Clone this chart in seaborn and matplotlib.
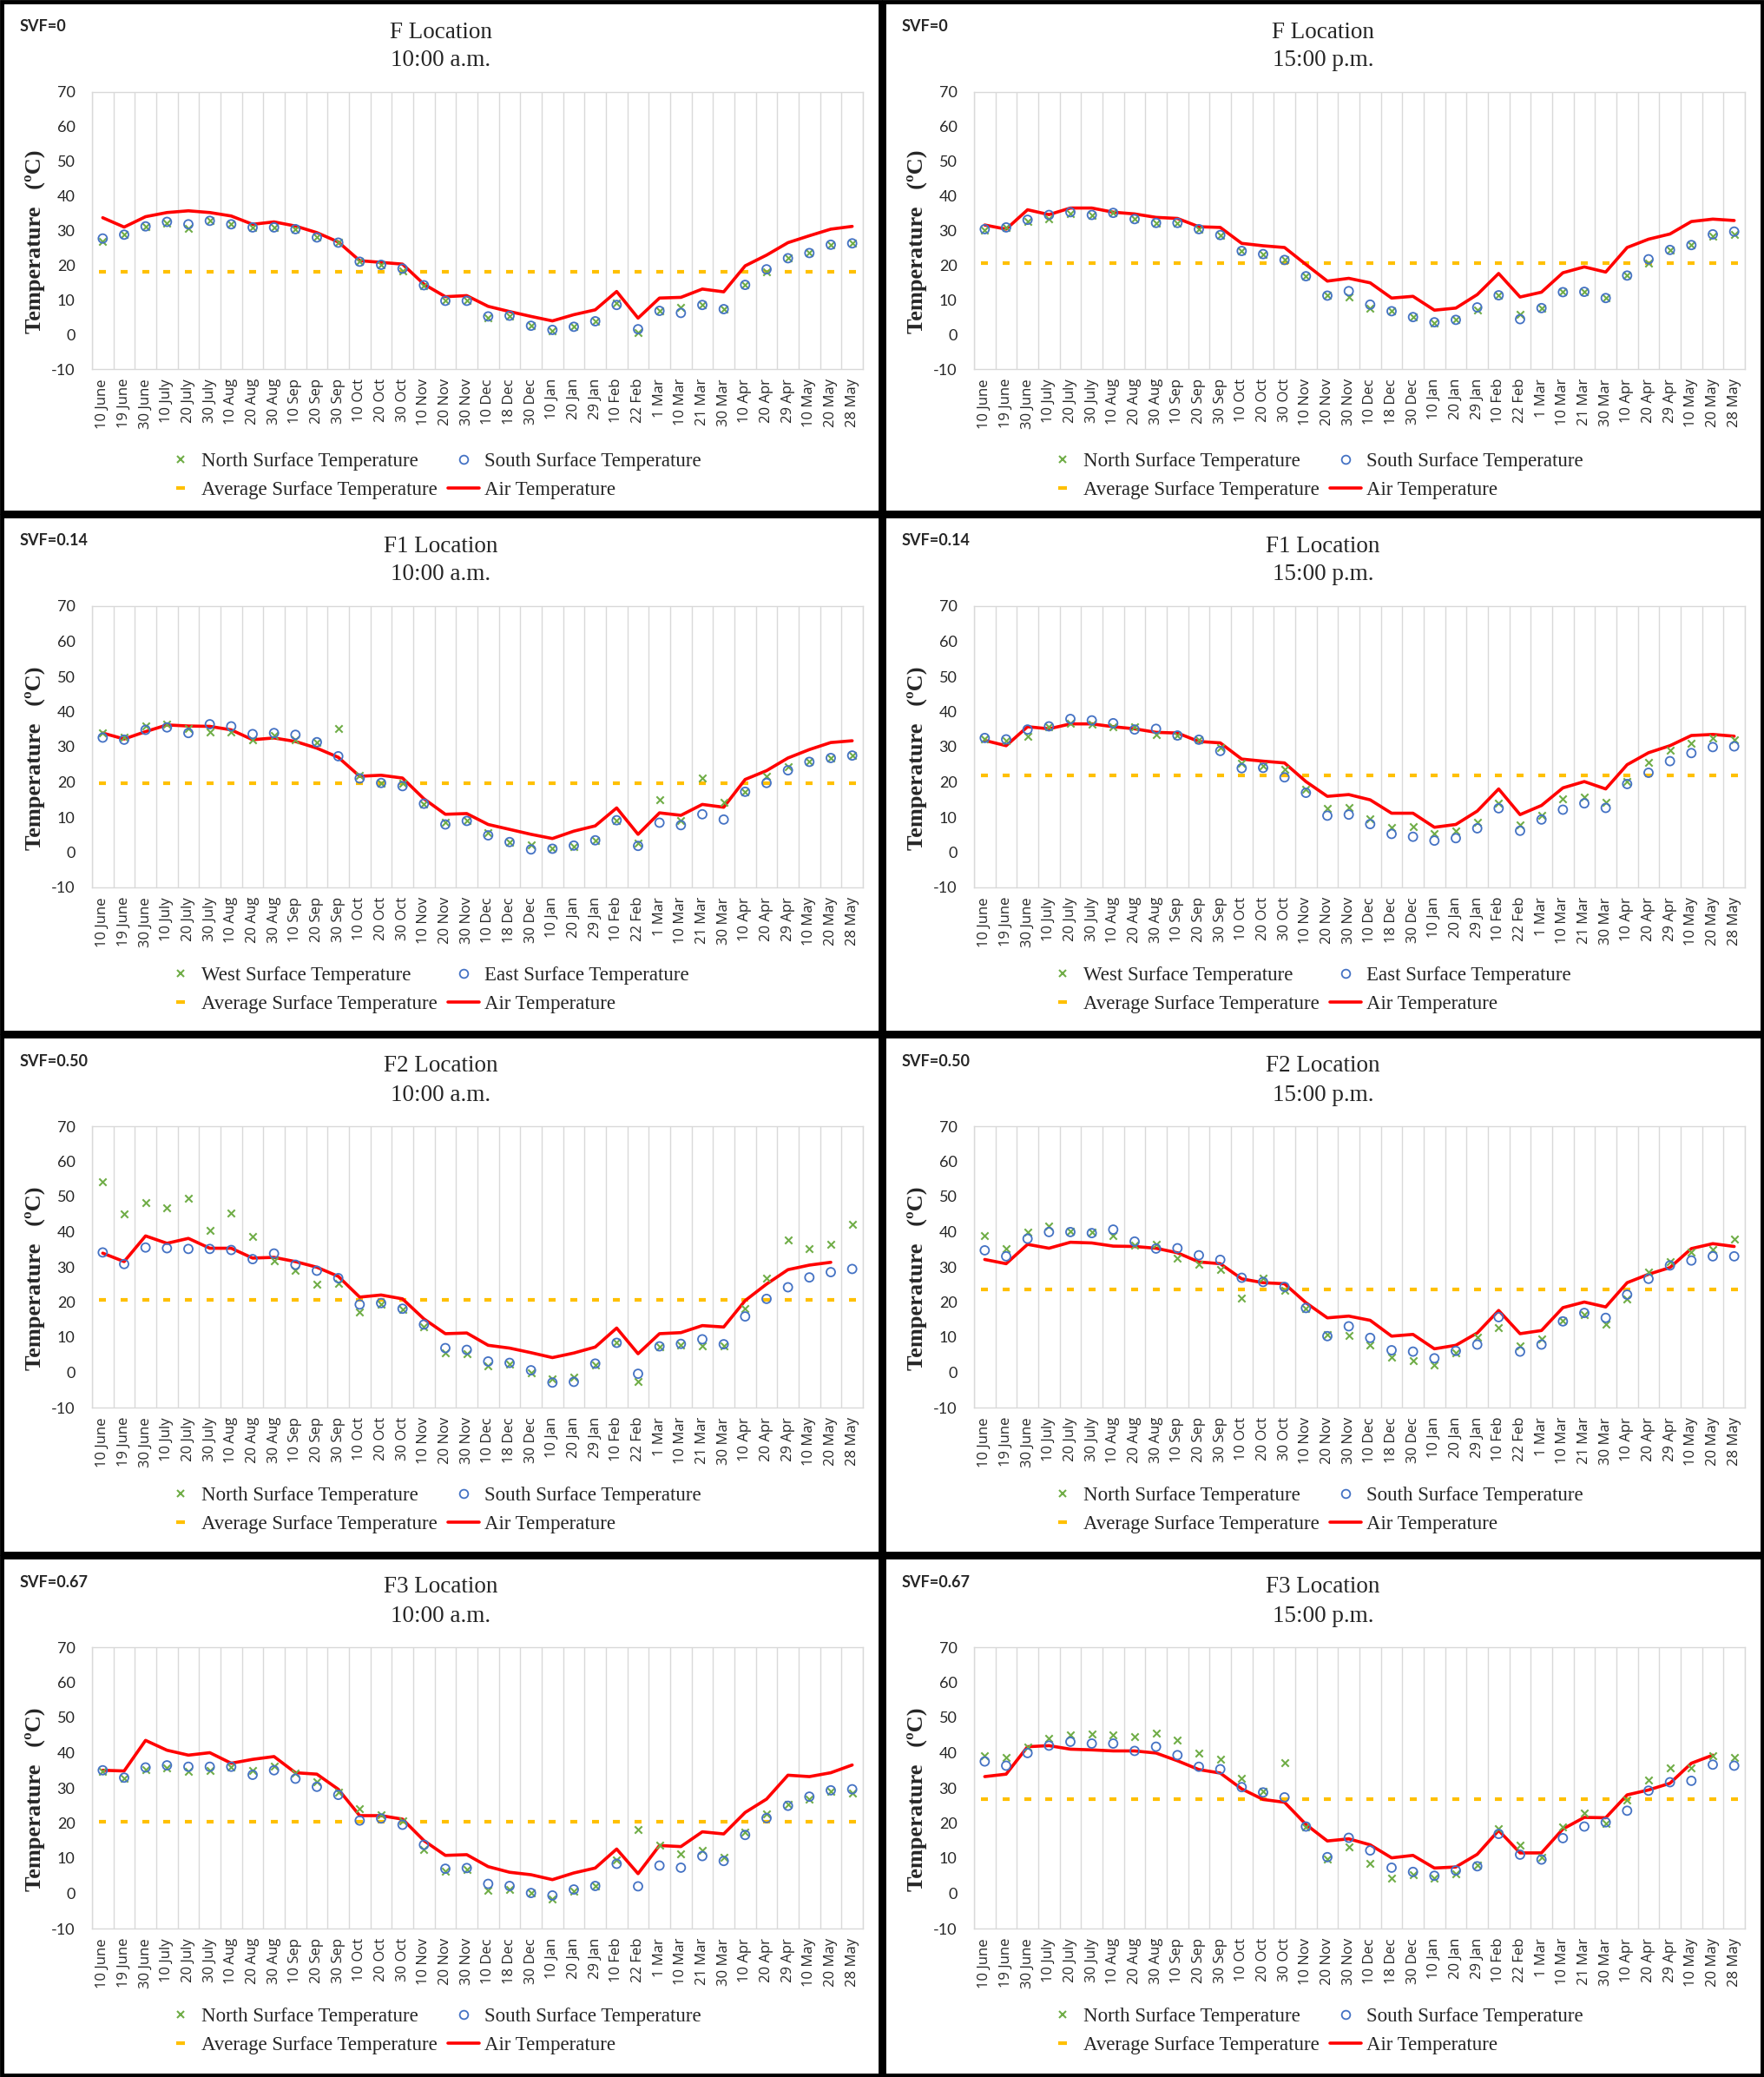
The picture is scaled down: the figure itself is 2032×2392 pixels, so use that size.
import matplotlib.pyplot as plt
from matplotlib.lines import Line2D
from matplotlib.patches import Rectangle
import seaborn as sns
import numpy as np
import pandas as pd

# --------------------
# data
# --------------------
dates = ['10 June', '19 June', '30 June', '10 July', '20 July', '30 July', '10 Aug', '20 Aug',
         '30 Aug', '10 Sep', '20 Sep', '30 Sep', '10 Oct', '20 Oct', '30 Oct', '10 Nov',
         '20 Nov', '30 Nov', '10 Dec', '18 Dec', '30 Dec', '10 Jan', '20 Jan', '29 Jan',
         '10 Feb', '22 Feb', '1 Mar', '10 Mar', '21 Mar', '30 Mar', '10 Apr', '20 Apr',
         '29 Apr', '10 May', '20 May', '28 May']
nan = np.nan

# F location, SVF=0
f_am_air = [33.7, 31, 34, 35.2, 35.7, 35.2, 34.2, 31.8, 32.5, 31.3, 29.4, 26.7, 21.3, 20.8, 20.3, 14.5, 10.9, 11.2,
            8.1, 6.6, 5.2, 3.9, 5.7, 7.1, 12.4, 4.7, 10.5, 10.7, 13.1, 12.3, 19.8, 22.9, 26.5, 28.5, 30.4, 31.2]
f_am_north = [26.8, 28.8, 31.2, 32.1, 30.7, 32.8, 31.8, 30.9, 30.9, 30.4, 28, 26.5, 21, 20.1, 18.4, 14.2, 9.7, 9.7,
              4.9, 5.4, 2.5, 1.1, 2.2, 3.8, 9, 0.6, 6.8, 7.8, 8.5, 7.3, 14.3, 18.1, 22, 23.5, 25.9, 26.3]
f_am_south = [27.7, 28.8, 31.2, 32.5, 31.8, 32.8, 31.8, 30.9, 30.9, 30.4, 28, 26.5, 21, 20.1, 19, 14.2, 9.7, 9.7,
              5.2, 5.4, 2.5, 1.3, 2.2, 3.8, 8.5, 1.5, 6.8, 6.2, 8.5, 7.3, 14.3, 18.8, 22, 23.5, 25.9, 26.3]
f_am_avg = 18.0

f_pm_air = [31.6, 30.4, 36, 34.6, 36.5, 36.5, 35.3, 34.8, 33.8, 33.5, 31.1, 30.9, 26.3, 25.6, 25.1, 20.2, 15.4, 16.2,
            14.9, 10.5, 11, 7, 7.6, 11.5, 17.6, 10.8, 12.2, 17.8, 19.5, 18, 25.1, 27.5, 29, 32.6, 33.3, 32.9]
f_pm_north = [30.2, 30.9, 32.7, 33.5, 34.8, 34.5, 35.1, 33.3, 32.2, 32.2, 30.4, 28.7, 24.1, 23.2, 21.5, 16.8, 11.2, 10.7,
              7.6, 6.7, 5, 3.3, 4.2, 7.1, 11.3, 5.7, 7.6, 12.2, 12.3, 10.5, 17, 20.7, 24.4, 25.8, 28.3, 28.8]
f_pm_south = [30.4, 30.9, 33.1, 34.5, 35.3, 34.5, 35.1, 33.3, 32.2, 32.2, 30.4, 28.7, 24.1, 23.2, 21.5, 16.8, 11.2, 12.5,
              8.6, 6.7, 5, 3.5, 4.2, 7.8, 11.3, 4.4, 7.6, 12.2, 12.3, 10.5, 17, 21.7, 24.4, 25.8, 28.9, 29.7]
f_pm_avg = 20.5

# F1 location, SVF=0.14
f1_am_air = [33.9, 32.2, 34.3, 36.2, 35.9, 35.8, 34.8, 32, 32.5, 31.5, 29.6, 27, 21.6, 21.9, 21.1, 15.2, 10.8, 11,
             7.9, 6.5, 5.1, 3.9, 6, 7.5, 12.6, 5.1, 11.2, 10.5, 13.6, 12.8, 20.7, 23.2, 26.8, 29.2, 31.2, 31.7]
f1_am_west = [33.9, 32.8, 35.9, 36.5, 35.1, 34.3, 34.2, 31.9, 33.2, 32, 31.3, 35.1, 21.9, 19.7, 19.7, 13.8, 8.4, 8.9,
              5.6, 2.9, 2, 1, 1.7, 3.4, 9.1, 2.7, 14.9, 8.9, 21.1, 14.3, 17.2, 21.6, 24.4, 25.7, 26.8, 27.5]
f1_am_east = [32.6, 32, 34.8, 35.5, 33.9, 36.4, 35.8, 33.6, 33.9, 33.4, 31.3, 27.3, 21, 19.7, 18.8, 13.8, 7.9, 8.9,
              4.8, 2.9, 0.8, 1, 1.9, 3.4, 9.1, 1.8, 8.4, 7.7, 10.8, 9.3, 17.2, 19.7, 23.3, 25.7, 26.8, 27.5]
f1_am_avg = 19.7

f1_pm_air = [31.8, 30.3, 35.7, 35.1, 36.5, 36.5, 35.7, 35.1, 34.1, 33.9, 31.5, 31.1, 26.5, 25.9, 25.4, 20.1, 15.9, 16.4,
             14.9, 11.1, 11.1, 7.1, 7.9, 11.7, 18, 10.7, 13.3, 18.3, 20.1, 18, 24.9, 28.3, 30.3, 33.2, 33.5, 33]
f1_pm_west = [32.2, 31.8, 33, 35.6, 36.7, 36.5, 35.6, 35.7, 33.5, 33.2, 32, 29.7, 25.4, 24.6, 23.5, 18, 12.5, 12.8,
              9.5, 7.1, 7.3, 5.4, 6, 8.5, 14, 7.9, 10.4, 15.1, 15.6, 14.2, 20.1, 25.6, 28.9, 31, 32.4, 32]
f1_pm_east = [32.5, 32.1, 34.9, 35.8, 37.9, 37.5, 36.7, 34.9, 35.1, 33.2, 32, 28.8, 23.9, 24, 21.3, 16.9, 10.4, 10.7,
              8, 5.2, 4.4, 3.3, 4, 6.8, 12.5, 6.1, 9.3, 12.1, 13.9, 12.6, 19.4, 22.6, 25.9, 28.2, 29.9, 30.1]
f1_pm_avg = 21.8

# F2 location, SVF=0.50
f2_am_air = [33.9, 31.5, 38.8, 36.7, 38.1, 35.3, 35.3, 32.5, 32.7, 31.5, 29.9, 27.3, 21.4, 22, 20.9, 15.2, 11, 11.2,
             7.7, 6.9, 5.6, 4.2, 5.5, 7.2, 12.6, 5.3, 11, 11.3, 13.3, 12.9, 20.4, 25.1, 29.2, 30.5, 31.3, nan]
f2_am_north = [54.1, 45, 48.3, 46.7, 49.5, 40.3, 45.3, 38.6, 31.8, 28.9, 25, 25.4, 17.1, 19.5, 17.8, 12.9, 5.6, 5.3,
               1.8, 2.3, -0.1, -1.8, -1.3, 2, 8.4, -2.5, 7.2, 7.7, 7.5, 7.5, 18.1, 26.8, 37.6, 35.1, 36.3, 42.1]
f2_am_south = [34.1, 30.8, 35.5, 35.3, 35.1, 35.1, 34.8, 32.2, 33.8, 30.6, 28.9, 26.8, 19.3, 19.7, 18.1, 13.6, 6.9, 6.4,
               3.1, 2.7, 0.6, -2.9, -2.7, 2.5, 8.4, -0.4, 7.4, 8.1, 9.4, 8, 15.9, 20.9, 24.2, 27, 28.5, 29.4]
f2_am_avg = 20.6

f2_pm_air = [32.1, 30.9, 36.4, 35.3, 37, 36.8, 35.9, 35.8, 35.3, 34, 31.4, 30.9, 26.6, 25.5, 25.2, 19.8, 15.5, 16,
             14.8, 10.3, 10.8, 6.7, 7.7, 11.2, 17.6, 11, 11.9, 18.4, 20, 18.6, 25.5, 27.9, 29.8, 35.2, 36.6, 35.8]
f2_pm_north = [38.8, 35.3, 39.9, 41.6, 40.2, 39.9, 38.9, 36.1, 36.4, 32.5, 30.7, 29.3, 21.2, 26.8, 23.3, 18.2, 10.7, 10.5,
               7.7, 4.2, 3.4, 2.1, 5.6, 9.9, 12.6, 7.5, 9.4, 14.8, 16.4, 13.6, 20.8, 28.5, 31.6, 34.2, 35, 38]
f2_pm_south = [34.7, 33, 38, 39.9, 39.9, 39.6, 40.6, 37.2, 35.2, 35.3, 33.3, 32, 26.9, 25.7, 24.3, 18.3, 10.3, 13.1,
               9.8, 6.3, 5.9, 4, 6.1, 7.9, 15.7, 5.9, 7.9, 14.5, 16.9, 15.5, 22.1, 26.6, 30.4, 31.8, 33, 33]
f2_pm_avg = 23.6

# F3 location, SVF=0.67
f3_am_air = [35, 34.8, 43.5, 40.7, 39.3, 40, 37, 38.1, 38.9, 34.3, 33.9, 29.6, 22.1, 22.1, 21.1, 15, 10.8, 11,
             7.6, 6, 5.3, 3.9, 5.8, 7.2, 12.6, 5.6, 13.6, 13.3, 17.5, 16.9, 23, 26.8, 33.6, 33.2, 34.3, 36.5]
f3_am_north = [34.8, 32.6, 35.1, 35.8, 34.8, 35, 35.9, 35, 36.2, 34.3, 31.8, 28.7, 24, 22.3, 20.7, 12.4, 6.3, 6.7,
               0.8, 1, 0.1, -1.5, 0.7, 2, 9.5, 18.1, 13.6, 11.2, 12.2, 10.3, 17.5, 22.7, 25.4, 26.8, 29, 28.5]
f3_am_south = [35, 32.9, 35.8, 36.4, 36, 36, 36, 33.7, 35, 32.6, 30.3, 28, 20.7, 21.3, 19.5, 13.8, 7, 7.2,
               2.7, 2.1, 0.1, -0.6, 1.1, 2.1, 8.4, 2, 7.9, 7.3, 10.6, 9.2, 16.6, 21.4, 24.9, 27.5, 29.3, 29.6]
f3_am_avg = 20.4

f3_pm_air = [33.2, 33.9, 41.7, 42, 41, 40.8, 40.5, 40.5, 39.9, 37.7, 35.2, 34.2, 29.7, 26.7, 25.9, 19.6, 14.9, 15.5,
             13.8, 10.1, 10.8, 7.2, 7.5, 11.1, 17.9, 11.5, 11.5, 18.3, 21.6, 21.5, 28, 29.4, 31.3, 37, 39.3, nan]
f3_pm_north = [39.1, 38.6, 41.7, 44.1, 45, 45.4, 45, 44.5, 45.5, 43.6, 39.9, 38.2, 32.7, 28.9, 37.2, 19, 9.8, 13.2,
               8.4, 4.2, 5.4, 4.2, 5.6, 8, 18.3, 13.6, 10.3, 19, 22.8, 19.8, 26.6, 32.2, 35.8, 35.8, 39.1, 38.6]
f3_pm_south = [37.5, 36.3, 39.9, 42, 43.1, 42.6, 42.6, 40.5, 41.7, 39.3, 36, 35.3, 30.2, 28.7, 27.3, 19, 10.3, 15.8,
               12.2, 7.3, 6.1, 5, 6.5, 7.7, 16.9, 11, 9.6, 15.7, 19, 20.2, 23.5, 29.2, 31.6, 32, 36.6, 36.3]
f3_pm_avg = 26.7

# (row, col, location, time, svf, name1, name2, surf1, surf2, air, avg)
panels = [
    (0, 0, 'F Location', '10:00 a.m.', 'SVF=0', 'North', 'South', f_am_north, f_am_south, f_am_air, f_am_avg),
    (0, 1, 'F Location', '15:00 p.m.', 'SVF=0', 'North', 'South', f_pm_north, f_pm_south, f_pm_air, f_pm_avg),
    (1, 0, 'F1 Location', '10:00 a.m.', 'SVF=0.14', 'West', 'East', f1_am_west, f1_am_east, f1_am_air, f1_am_avg),
    (1, 1, 'F1 Location', '15:00 p.m.', 'SVF=0.14', 'West', 'East', f1_pm_west, f1_pm_east, f1_pm_air, f1_pm_avg),
    (2, 0, 'F2 Location', '10:00 a.m.', 'SVF=0.50', 'North', 'South', f2_am_north, f2_am_south, f2_am_air, f2_am_avg),
    (2, 1, 'F2 Location', '15:00 p.m.', 'SVF=0.50', 'North', 'South', f2_pm_north, f2_pm_south, f2_pm_air, f2_pm_avg),
    (3, 0, 'F3 Location', '10:00 a.m.', 'SVF=0.67', 'North', 'South', f3_am_north, f3_am_south, f3_am_air, f3_am_avg),
    (3, 1, 'F3 Location', '15:00 p.m.', 'SVF=0.67', 'North', 'South', f3_pm_north, f3_pm_south, f3_pm_air, f3_pm_avg),
]

# --------------------
# style
# --------------------
sns.set_style('white')
plt.rcParams['font.family'] = ['DejaVu Sans']

green = '#70AD47'
blue = '#4472C4'
orange = '#FFC000'
red = '#FF0000'
serif = 'Liberation Serif'

W, H = 2032, 2392
col_x = [0, 1016]
row_y = [0, 592, 1191, 1791]
row_h = [592, 599, 600, 601]


def box(left, top, w, h):
    # pixel box (from top-left) -> figure fraction
    return [left / W, 1 - (top + h) / H, w / W, h / H]


fig = plt.figure(figsize=(W / 100, H / 100), dpi=100)

# frames round every panel
bg = fig.add_axes([0, 0, 1, 1], zorder=-1)
bg.set_xlim(0, W)
bg.set_ylim(H, 0)
bg.axis('off')
for r in range(4):
    for c in range(2):
        bg.add_patch(Rectangle((col_x[c] + 2, row_y[r] + 2), 1012, row_h[r] - 4,
                               fill=False, ec='black', lw=3.5))

x = np.arange(len(dates))

for (r, c, loc, tm, svf, n1, n2, s1, s2, air, avg) in panels:
    cx, ry = col_x[c], row_y[r]
    ah = 319 if r == 0 else 324
    ax = fig.add_axes(box(cx + 106, ry + 106, 888, ah))

    df = pd.DataFrame({'x': x, 's1': s1, 's2': s2, 'air': air, 'avg': [avg] * len(dates)})

    sns.scatterplot(data=df, x='x', y='avg', ax=ax, marker='_', s=36, linewidth=3.0,
                    color=orange, legend=False, zorder=2)
    sns.lineplot(data=df, x='x', y='air', ax=ax, color=red, lw=2.6, legend=False, zorder=3)
    sns.scatterplot(data=df, x='x', y='s1', ax=ax, marker='x', s=36, linewidth=1.5,
                    color=green, legend=False, zorder=4)
    sns.scatterplot(data=df, x='x', y='s2', ax=ax, marker='o', s=52, linewidth=1.3,
                    facecolor='none', edgecolor=blue, legend=False, zorder=5)

    ax.set_xlim(-0.5, len(dates) - 0.5)
    ax.set_ylim(-10, 70)
    ax.set_yticks(range(-10, 71, 10))
    ax.set_yticklabels([str(v) for v in range(-10, 71, 10)], fontsize=13, family='Lato')
    ax.set_xticks(x)
    ax.set_xticklabels(dates, rotation=90, fontsize=12, family='Open Sans')
    ax.set_xticks(np.arange(-0.5, len(dates), 1), minor=True)
    ax.grid(which='minor', axis='x', color='#D9D9D9', lw=1)
    ax.grid(which='major', axis='both', visible=False)
    ax.tick_params(which='both', length=0)
    ax.tick_params(axis='y', pad=14)
    ax.tick_params(axis='x', pad=8)
    for sp in ax.spines.values():
        sp.set_color('#D9D9D9')
        sp.set_linewidth(1)
    ax.set_xlabel('')
    ax.set_ylabel('Temperature   (ºC)', fontsize=19, fontweight='bold', family=serif)
    ax.yaxis.set_label_coords(-0.061, 0.46)

    # titles and SVF tag
    fig.text((cx + 508) / W, 1 - (ry + 37) / H, loc, ha='center', va='center', fontsize=19.5, family=serif)
    fig.text((cx + 508) / W, 1 - (ry + 70) / H, tm, ha='center', va='center', fontsize=19.5, family=serif)
    fig.text((cx + 23) / W, 1 - (ry + 31) / H, svf, ha='left', va='center', fontsize=13,
             fontweight='bold', family='Lato')

    handles = [
        Line2D([], [], ls='', marker='x', color=green, ms=6, mew=1.5),
        Line2D([], [], ls='', marker='_', color=orange, ms=7, mew=3),
        Line2D([], [], ls='', marker='o', mfc='none', mec=blue, ms=7, mew=1.3),
        Line2D([], [], color=red, lw=2.6),
    ]
    labels = [n1 + ' Surface Temperature', 'Average Surface Temperature',
              n2 + ' Surface Temperature', 'Air Temperature']
    fig.legend(handles, labels, ncol=2, loc='center left',
               bbox_to_anchor=((cx + 190) / W, 1 - (ry + 548) / H),
               frameon=False, prop={'family': serif, 'size': 16.5},
               handlelength=1.6, handletextpad=0.25, columnspacing=0.5,
               labelspacing=0.55, borderpad=0, borderaxespad=0)

fig.savefig('out.png', dpi=100, facecolor='white')
